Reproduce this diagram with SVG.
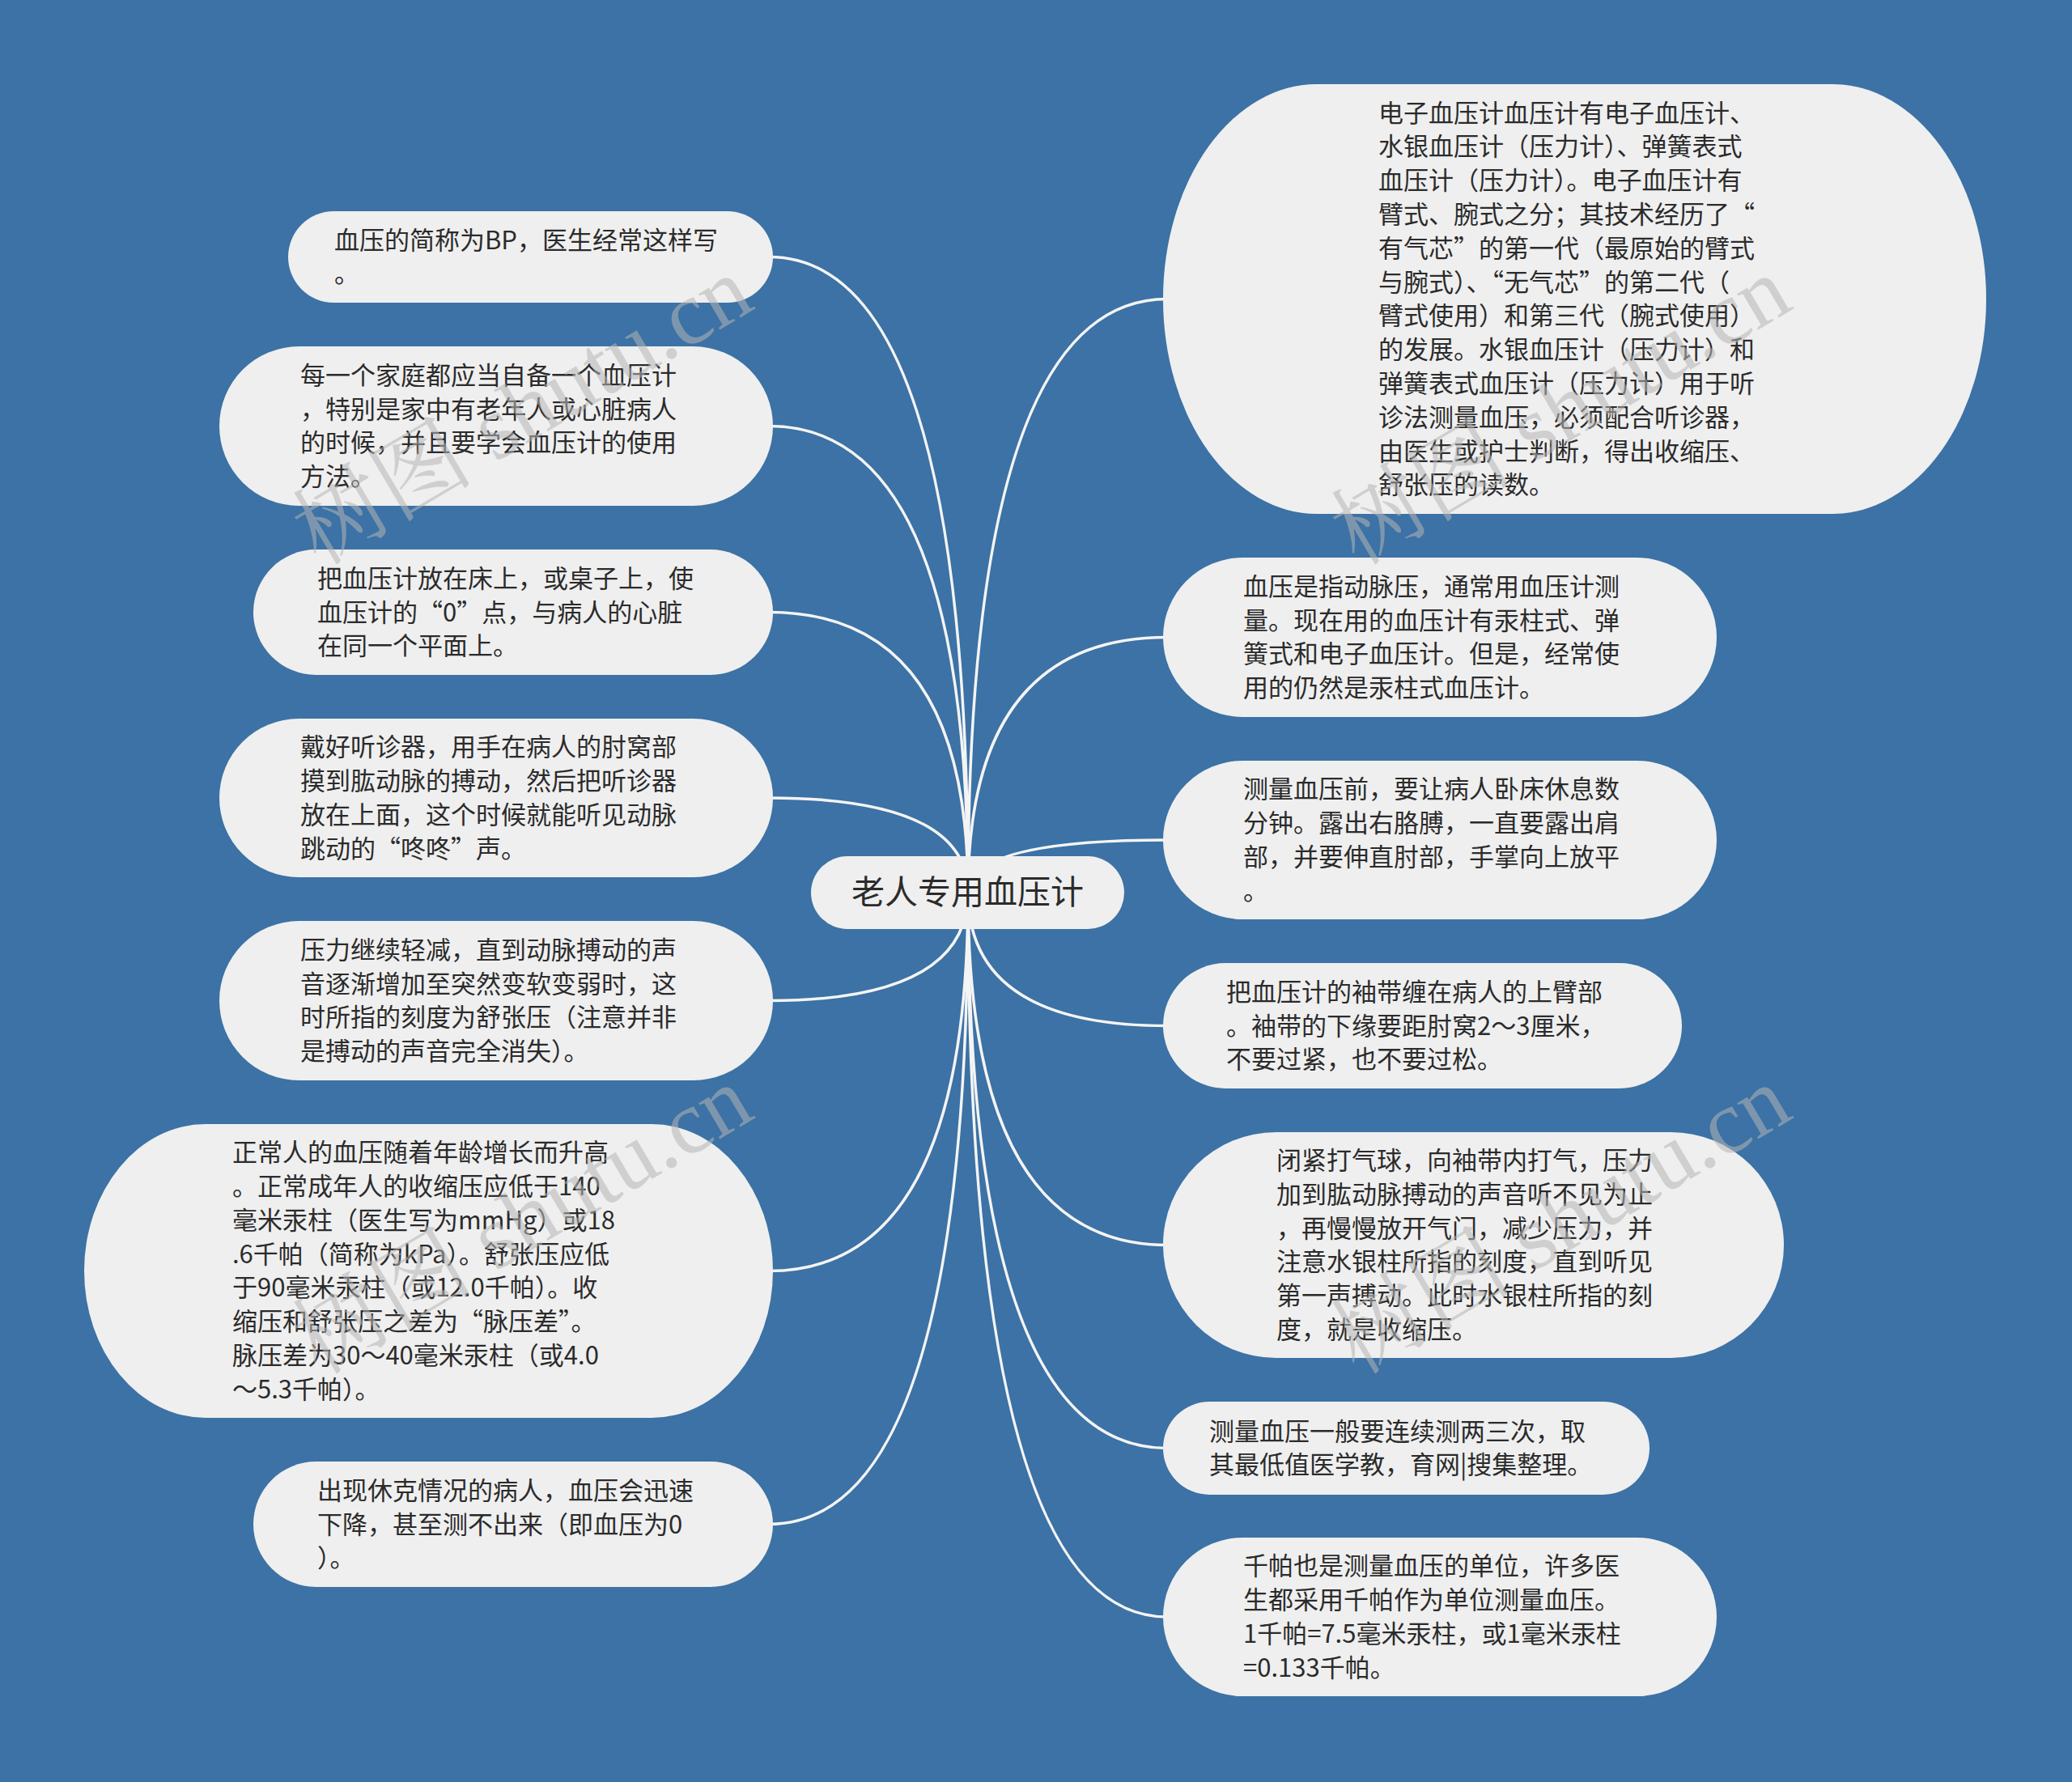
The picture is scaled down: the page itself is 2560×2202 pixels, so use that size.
<svg xmlns="http://www.w3.org/2000/svg" width="2560" height="2202" viewBox="0 0 2560 2202">
<style>
.bg{fill:#3c72a5}
.nd{fill:#efefef}
.tx{font-family:"Noto Sans CJK SC","Noto Sans",sans-serif;font-size:31px;fill:#2b2b2b}
.ct{font-family:"Noto Sans CJK SC","Noto Sans",sans-serif;font-size:41px;fill:#2b2b2b}
.ln{fill:none;stroke:#f4f4f4;stroke-width:3.5;stroke-linecap:round}
.wm{font-family:"Liberation Serif","Noto Serif CJK SC","Noto Sans CJK SC",serif;font-size:112px;fill:#b4b4b4;fill-opacity:0.55}
</style>
<rect class="bg" x="0" y="0" width="2560" height="2202"/>
<g id="connectors">
<path class="ln" d="M1196 1103 Q1196 317.5 950 317.5"/>
<path class="ln" d="M1196 1103 Q1196 526.5 950 526.5"/>
<path class="ln" d="M1196 1103 Q1196 756.5 950 756.5"/>
<path class="ln" d="M1196 1103 Q1196 986 950 986"/>
<path class="ln" d="M1196 1103 Q1196 1236.5 950 1236.5"/>
<path class="ln" d="M1196 1103 Q1196 1570.5 950 1570.5"/>
<path class="ln" d="M1196 1103 Q1196 1883.5 950 1883.5"/>
<path class="ln" d="M1196 1103 Q1196 369.5 1442 369.5"/>
<path class="ln" d="M1196 1103 Q1196 787.5 1442 787.5"/>
<path class="ln" d="M1196 1103 Q1196 1038 1442 1038"/>
<path class="ln" d="M1196 1103 Q1196 1267.5 1442 1267.5"/>
<path class="ln" d="M1196 1103 Q1196 1538.5 1442 1538.5"/>
<path class="ln" d="M1196 1103 Q1196 1789.5 1442 1789.5"/>
<path class="ln" d="M1196 1103 Q1196 1998 1442 1998"/>
</g>
<g id="center">
<rect class="nd" x="1002" y="1058" width="387" height="90" rx="45"/>
<text class="ct" x="1195.5" y="1117" text-anchor="middle">老人专用血压计</text>
</g>
<g id="L1">
<rect class="nd" x="356" y="261" width="599" height="113" rx="56.5"/>
<text class="tx" x="413"><tspan x="413" y="307.6">血压的简称为BP，医生经常这样写</tspan><tspan x="413" y="349.4">。</tspan></text>
</g>
<g id="L2">
<rect class="nd" x="271" y="428" width="684" height="197" rx="98.5"/>
<text class="tx"><tspan x="371" y="474.8">每一个家庭都应当自备一个血压计</tspan><tspan x="371" y="516.6">，特别是家中有老年人或心脏病人</tspan><tspan x="371" y="558.4">的时候，并且要学会血压计的使用</tspan><tspan x="371" y="600.2">方法。</tspan></text>
</g>
<g id="L3">
<rect class="nd" x="313" y="679" width="642" height="155" rx="77.5"/>
<text class="tx"><tspan x="392" y="725.7">把血压计放在床上，或桌子上，使</tspan><tspan x="392" y="767.5">血压计的“0”点，与病人的心脏</tspan><tspan x="392" y="809.3">在同一个平面上。</tspan></text>
</g>
<g id="L4">
<rect class="nd" x="271" y="888" width="684" height="196" rx="98"/>
<text class="tx"><tspan x="371" y="934.3">戴好听诊器，用手在病人的肘窝部</tspan><tspan x="371" y="976.1">摸到肱动脉的搏动，然后把听诊器</tspan><tspan x="371" y="1017.9">放在上面，这个时候就能听见动脉</tspan><tspan x="371" y="1059.7">跳动的“咚咚”声。</tspan></text>
</g>
<g id="L5">
<rect class="nd" x="271" y="1138" width="684" height="197" rx="98.5"/>
<text class="tx"><tspan x="371" y="1184.8">压力继续轻减，直到动脉搏动的声</tspan><tspan x="371" y="1226.6">音逐渐增加至突然变软变弱时，这</tspan><tspan x="371" y="1268.4">时所指的刻度为舒张压（注意并非</tspan><tspan x="371" y="1310.2">是搏动的声音完全消失）。</tspan></text>
</g>
<g id="L6">
<rect class="nd" x="104" y="1389" width="851" height="363" rx="150" ry="181.5"/>
<text class="tx"><tspan x="287" y="1435.2">正常人的血压随着年龄增长而升高</tspan><tspan x="287" y="1477">。正常成年人的收缩压应低于140</tspan><tspan x="287" y="1518.8">毫米汞柱（医生写为mmHg）或18</tspan><tspan x="287" y="1560.6">.6千帕（简称为kPa）。舒张压应低</tspan><tspan x="287" y="1602.4">于90毫米汞柱（或12.0千帕）。收</tspan><tspan x="287" y="1644.2">缩压和舒张压之差为“脉压差”。</tspan><tspan x="287" y="1686">脉压差为30～40毫米汞柱（或4.0</tspan><tspan x="287" y="1727.8">～5.3千帕）。</tspan></text>
</g>
<g id="L7">
<rect class="nd" x="313" y="1806" width="642" height="155" rx="77.5"/>
<text class="tx"><tspan x="392" y="1852.7">出现休克情况的病人，血压会迅速</tspan><tspan x="392" y="1894.5">下降，甚至测不出来（即血压为0</tspan><tspan x="392" y="1936.3">）。</tspan></text>
</g>
<g id="R1">
<rect class="nd" x="1437" y="104" width="1017" height="531" rx="190" ry="265.5"/>
<text class="tx"><tspan x="1703" y="150.6">电子血压计血压计有电子血压计、</tspan><tspan x="1703" y="192.4">水银血压计（压力计）、弹簧表式</tspan><tspan x="1703" y="234.2">血压计（压力计）。电子血压计有</tspan><tspan x="1703" y="276">臂式、腕式之分；其技术经历了“</tspan><tspan x="1703" y="317.8">有气芯”的第一代（最原始的臂式</tspan><tspan x="1703" y="359.6">与腕式）、“无气芯”的第二代（</tspan><tspan x="1703" y="401.4">臂式使用）和第三代（腕式使用）</tspan><tspan x="1703" y="443.2">的发展。水银血压计（压力计）和</tspan><tspan x="1703" y="485">弹簧表式血压计（压力计）用于听</tspan><tspan x="1703" y="526.8">诊法测量血压，必须配合听诊器，</tspan><tspan x="1703" y="568.6">由医生或护士判断，得出收缩压、</tspan><tspan x="1703" y="610.4">舒张压的读数。</tspan></text>
</g>
<g id="R2">
<rect class="nd" x="1437" y="689" width="684" height="197" rx="98.5"/>
<text class="tx"><tspan x="1536" y="735.8">血压是指动脉压，通常用血压计测</tspan><tspan x="1536" y="777.6">量。现在用的血压计有汞柱式、弹</tspan><tspan x="1536" y="819.4">簧式和电子血压计。但是，经常使</tspan><tspan x="1536" y="861.2">用的仍然是汞柱式血压计。</tspan></text>
</g>
<g id="R3">
<rect class="nd" x="1437" y="940" width="684" height="196" rx="98"/>
<text class="tx"><tspan x="1536" y="986.3">测量血压前，要让病人卧床休息数</tspan><tspan x="1536" y="1028.1">分钟。露出右胳膊，一直要露出肩</tspan><tspan x="1536" y="1069.9">部，并要伸直肘部，手掌向上放平</tspan><tspan x="1536" y="1111.7">。</tspan></text>
</g>
<g id="R4">
<rect class="nd" x="1437" y="1190" width="641" height="155" rx="77.5"/>
<text class="tx"><tspan x="1515" y="1236.7">把血压计的袖带缠在病人的上臂部</tspan><tspan x="1515" y="1278.5">。袖带的下缘要距肘窝2～3厘米，</tspan><tspan x="1515" y="1320.3">不要过紧，也不要过松。</tspan></text>
</g>
<g id="R5">
<rect class="nd" x="1437" y="1399" width="767" height="279" rx="139.5"/>
<text class="tx"><tspan x="1577" y="1445">闭紧打气球，向袖带内打气，压力</tspan><tspan x="1577" y="1486.8">加到肱动脉搏动的声音听不见为止</tspan><tspan x="1577" y="1528.6">，再慢慢放开气门，减少压力，并</tspan><tspan x="1577" y="1570.4">注意水银柱所指的刻度，直到听见</tspan><tspan x="1577" y="1612.2">第一声搏动。此时水银柱所指的刻</tspan><tspan x="1577" y="1654">度，就是收缩压。</tspan></text>
</g>
<g id="R6">
<rect class="nd" x="1437" y="1732" width="601" height="115" rx="57.5"/>
<text class="tx"><tspan x="1494" y="1779.6">测量血压一般要连续测两三次，取</tspan><tspan x="1494" y="1821.4">其最低值医学教，育网|搜集整理。</tspan></text>
</g>
<g id="R7">
<rect class="nd" x="1437" y="1900" width="684" height="196" rx="98"/>
<text class="tx"><tspan x="1536" y="1946.3">千帕也是测量血压的单位，许多医</tspan><tspan x="1536" y="1988.1">生都采用千帕作为单位测量血压。</tspan><tspan x="1536" y="2029.9">1千帕=7.5毫米汞柱，或1毫米汞柱</tspan><tspan x="1536" y="2071.7">=0.133千帕。</tspan></text>
</g>
<g id="watermark">
<text class="wm" x="647" y="545" text-anchor="middle" transform="rotate(-30.6 647 510)">树图 shutu.cn</text>
<text class="wm" x="1930" y="545" text-anchor="middle" transform="rotate(-30.6 1930 510)">树图 shutu.cn</text>
<text class="wm" x="647" y="1545" text-anchor="middle" transform="rotate(-30.6 647 1510)">树图 shutu.cn</text>
<text class="wm" x="1930" y="1545" text-anchor="middle" transform="rotate(-30.6 1930 1510)">树图 shutu.cn</text>
</g>
</svg>
